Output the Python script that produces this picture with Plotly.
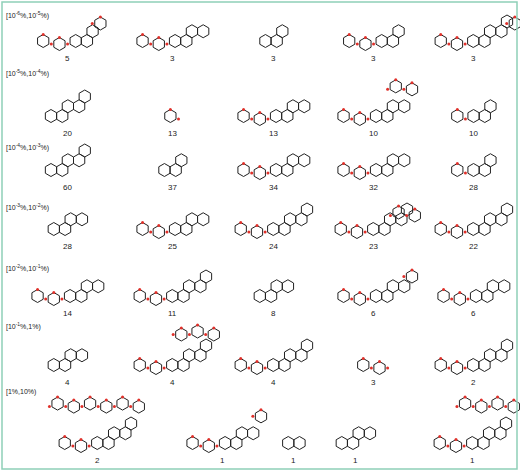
import math
import plotly.graph_objects as go

row_labels = ["[10<sup>-6</sup>%,10<sup>-5</sup>%)", "[10<sup>-5</sup>%,10<sup>-4</sup>%)",
              "[10<sup>-4</sup>%,10<sup>-3</sup>%)", "[10<sup>-3</sup>%,10<sup>-2</sup>%)",
              "[10<sup>-2</sup>%,10<sup>-1</sup>%)", "[10<sup>-1</sup>%,1%)", "[1%,10%)"]
counts = [[5, 3, 3, 3, 3], [20, 13, 13, 10, 10], [60, 37, 34, 32, 28], [28, 25, 24, 23, 22],
          [14, 11, 8, 6, 6], [4, 4, 4, 3, 2], [2, 1, 1, 1, 1]]
fused = [[3, 4, 3, 3, 5], [5, 0, 4, 4, 3], [5, 3, 4, 4, 3], [4, 4, 5, 5, 5],
         [4, 5, 4, 4, 4], [4, 5, 5, 0, 5], [5, 4, 2, 4, 5]]
pendant = [[3, 2, 0, 2, 3], [0, 1, 2, 4, 1], [0, 0, 2, 2, 1], [0, 2, 2, 4, 2],
           [2, 2, 0, 3, 2], [0, 5, 2, 2, 2], [8, 3, 0, 0, 6]]
label_y = [15, 73, 147, 207, 268, 326, 392]
count_y = [58, 133, 187, 246, 313, 382, 460]
col_x = [[67, 172, 273, 373, 473]] * 6 + [[97, 222, 293, 355, 472]]

R = 6.5
S3 = math.sqrt(3)
bx, by, ox, oy = [], [], [], []

def hexagon(cx, cy, red=False):
    pts = [(cx + R * math.cos(math.radians(30 + 60 * k)), cy + R * math.sin(math.radians(30 + 60 * k))) for k in range(7)]
    for p in pts:
        bx.append(p[0]); by.append(p[1])
    bx.append(None); by.append(None)
    if red:
        ox.append(pts[4][0]); oy.append(pts[4][1])

def fused_pos(i):
    return i * S3 * R - (i // 2) * S3 / 2 * R, -(i // 2) * 1.5 * R

for r in range(7):
    for c in range(5):
        f, p = fused[r][c], pendant[r][c]
        pl = min(p, 2)
        fw = (fused_pos(f - 1)[0] + S3 * R) if f else 0
        w = fw + pl * 2.5 * R
        x0 = col_x[r][c] - w / 2 + R
        cy = count_y[r] - 17
        xs = x0
        for i in range(pl):
            hexagon(xs, cy + (3 if i % 2 else 0), red=True)
            ox.append(xs + 1.25 * R); oy.append(cy + 3)
            xs += 2.5 * R
        for i in range(f):
            dx, dy = fused_pos(i)
            hexagon(xs + dx, cy + dy)
        ex, ey = fused_pos(f - 1) if f else (0, 0)
        top = min(ey, -1.5 * R) if f > 1 else 0
        py = max(cy + top - 2.6 * R, label_y[r] + 2 + R)
        for j in range(p - pl):
            px = xs + ex + 1.2 * R - j * 2.5 * R
            hexagon(px, py - (j % 2) * 3, red=True)
            ox.append(px - 1.25 * R); oy.append(py)

fig = go.Figure()
fig.add_trace(go.Scatter(x=bx, y=by, mode="lines", line=dict(color="#222", width=1), hoverinfo="skip"))
fig.add_trace(go.Scatter(x=ox, y=oy, mode="markers", marker=dict(color="#e0302a", size=3), hoverinfo="skip"))
for r in range(7):
    fig.add_annotation(x=4, y=label_y[r], text=row_labels[r], showarrow=False, xanchor="left",
                       font=dict(size=7, color="#222", family="Liberation Sans"))
    for c in range(5):
        fig.add_annotation(x=col_x[r][c], y=count_y[r], text=str(counts[r][c]), showarrow=False,
                           font=dict(size=8, color="#222", family="Liberation Sans"))
fig.add_shape(type="rect", x0=2, y0=2, x1=517, y1=469, line=dict(color="#8fd0b8", width=1.5))
fig.update_layout(width=520, height=472, margin=dict(l=0, r=0, t=0, b=0), showlegend=False,
                  plot_bgcolor="white", paper_bgcolor="white",
                  xaxis=dict(range=[0, 520], visible=False, fixedrange=True),
                  yaxis=dict(range=[472, 0], visible=False, fixedrange=True))
fig.write_html("out.html", config={"displayModeBar": False})
with open("out.html", encoding="utf-8") as fh:
    html = fh.read()
html = html.replace("<head>", "<head><style>html,body{margin:0;padding:0;overflow:hidden}</style>", 1)
with open("out.html", "w", encoding="utf-8") as fh:
    fh.write(html)
